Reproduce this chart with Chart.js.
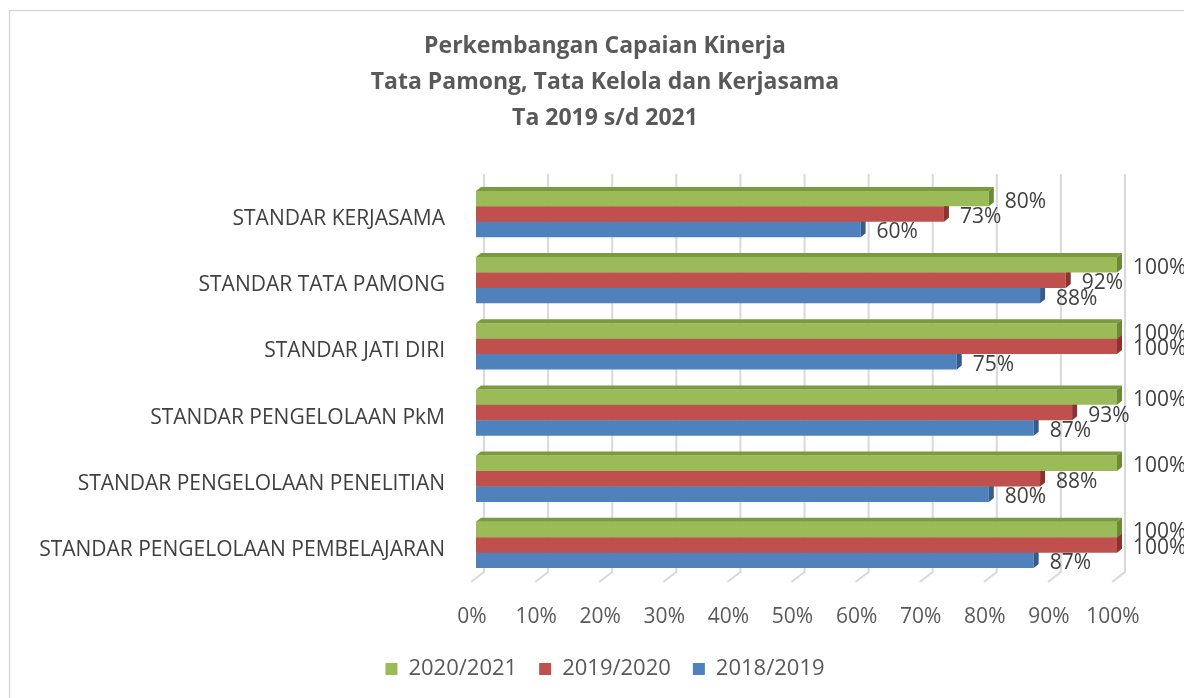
<!DOCTYPE html>
<html>
<head>
<meta charset="utf-8">
<script src="https://cdn.jsdelivr.net/npm/chart.js@4"></script>
<style>
  html, body { margin: 0; padding: 0; background: #fff; overflow: hidden; }
  /* canvas is a bit wider than the window, like the cropped original */
  #wrap { width: 1184px; height: 698px; position: relative; overflow: hidden; }
</style>
</head>
<body>
<div id="wrap"><canvas id="chart" width="1210" height="698"></canvas></div>
<script>
// categories, top to bottom
var categories = [
    'STANDAR KERJASAMA',
    'STANDAR TATA PAMONG',
    'STANDAR JATI DIRI',
    'STANDAR PENGELOLAAN PkM',
    'STANDAR PENGELOLAAN PENELITIAN',
    'STANDAR PENGELOLAAN PEMBELAJARAN'
];
var seriesNames = ['2020/2021', '2019/2020', '2018/2019'];
var values2021 = [80, 100, 100, 100, 100, 100];
var values2020 = [73, 92, 100, 93, 88, 100];
var values2019 = [60, 88, 75, 87, 80, 87];
var tickValues = [0, 10, 20, 30, 40, 50, 60, 70, 80, 90, 100];
var titleLines = ['Perkembangan Capaian Kinerja', 'Tata Pamong, Tata Kelola dan Kerjasama', 'Ta 2019 s/d 2021'];

// front colour, top face, side face (office 2007 palette)
var colours = [
    ['#9bbb59', '#7a9a40', '#6c8a35'],
    ['#c0504d', '#9c3a38', '#8a3331'],
    ['#4f81bd', '#3c6698', '#355c8a']
];
var DX = 5, DY = 4;
var FONT = "'Open Sans', 'DejaVu Sans', sans-serif";

// light frame round the chart, like the office chart area border
var framePlugin = {
    id: 'frame',
    beforeDraw: function(chart) {
        var ctx = chart.ctx;
        ctx.save();
        ctx.strokeStyle = '#d9d9d9';
        ctx.lineWidth = 1.5;
        ctx.strokeRect(9.5, 10.5, 1300, 800);
        ctx.restore();
    }
};

// back wall gridlines + the little floor diagonals
var wallPlugin = {
    id: 'wall',
    beforeDatasetsDraw: function(chart) {
        var ctx = chart.ctx, xs = chart.scales.x, area = chart.chartArea;
        ctx.save();
        ctx.strokeStyle = '#d9d9d9';
        ctx.lineWidth = 2;
        tickValues.forEach(function(v) {
            var x = xs.getPixelForValue(v) + 8;
            ctx.beginPath();
            ctx.moveTo(x, area.top - 7);
            ctx.lineTo(x, area.bottom - 6);
            ctx.lineTo(x - 13, area.bottom + 4);
            ctx.stroke();
        });
        ctx.restore();
    }
};

// fake 3d: top and right faces on each bar, drawn right after its dataset
var depthPlugin = {
    id: 'depth',
    afterDatasetDraw: function(chart, args) {
        var ctx = chart.ctx, c = colours[args.index];
        args.meta.data.forEach(function(bar) {
            var p = bar.getProps(['x', 'y', 'base', 'height'], true);
            var top = p.y - p.height / 2, bottom = p.y + p.height / 2;
            ctx.save();
            ctx.fillStyle = c[1];
            ctx.beginPath();
            ctx.moveTo(p.base, top);
            ctx.lineTo(p.base + DX, top - DY);
            ctx.lineTo(p.x + DX, top - DY);
            ctx.lineTo(p.x, top);
            ctx.closePath();
            ctx.fill();
            ctx.fillStyle = c[2];
            ctx.beginPath();
            ctx.moveTo(p.x, top);
            ctx.lineTo(p.x + DX, top - DY);
            ctx.lineTo(p.x + DX, bottom - DY);
            ctx.lineTo(p.x, bottom);
            ctx.closePath();
            ctx.fill();
            ctx.restore();
        });
    }
};

// value labels beyond the bar ends
var labelPlugin = {
    id: 'valueLabels',
    afterDatasetsDraw: function(chart) {
        var ctx = chart.ctx;
        ctx.save();
        ctx.font = '21px ' + FONT;
        ctx.fillStyle = '#404040';
        ctx.textAlign = 'left';
        ctx.textBaseline = 'middle';
        chart.data.datasets.forEach(function(ds, i) {
            chart.getDatasetMeta(i).data.forEach(function(bar, j) {
                ctx.fillText(ds.data[j] + '%', bar.x + 16, bar.y + 3);
            });
        });
        ctx.restore();
    }
};

var ctx = document.getElementById('chart').getContext('2d');
new Chart(ctx, {
    type: 'bar',
    data: {
        labels: categories,
        datasets: [
            { label: seriesNames[0], data: values2021, backgroundColor: colours[0][0] },
            { label: seriesNames[1], data: values2020, backgroundColor: colours[1][0] },
            { label: seriesNames[2], data: values2019, backgroundColor: colours[2][0] }
        ]
    },
    options: {
        indexAxis: 'y',
        responsive: false,
        animation: false,
        barPercentage: 1.0,
        categoryPercentage: 0.7,
        layout: { padding: { top: 29, right: 0, bottom: 8, left: 0 } },
        scales: {
            x: {
                min: 0, max: 100,
                grid: { display: false, drawTicks: false },
                border: { display: false },
                ticks: {
                    stepSize: 10,
                    padding: 26,
                    labelOffset: -4,
                    color: '#595959',
                    font: { family: FONT, size: 21 },
                    callback: function(v) { return v + '%'; }
                },
                afterFit: function(s) { s.height = 58; }
            },
            y: {
                grid: { display: false, drawTicks: false },
                border: { display: false },
                ticks: {
                    padding: 31,
                    labelOffset: 5,
                    color: '#404040',
                    font: { family: FONT, size: 21 }
                },
                afterFit: function(s) { s.width = 476; }
            },
            // empty strip on the right where the value labels run out
            side: {
                type: 'category',
                position: 'right',
                labels: categories,
                grid: { display: false, drawTicks: false },
                border: { display: false },
                ticks: { display: false },
                afterFit: function(s) { s.width = 93; }
            }
        },
        plugins: {
            title: {
                display: true,
                text: titleLines,
                color: '#595959',
                font: { family: FONT, size: 23, weight: 'bold', lineHeight: 1.55 },
                padding: { top: 0, bottom: 45 }
            },
            legend: {
                position: 'bottom',
                labels: {
                    boxWidth: 12,
                    boxHeight: 12,
                    padding: 22,
                    color: '#595959',
                    font: { family: FONT, size: 22 }
                }
            },
            tooltip: { enabled: false }
        }
    },
    plugins: [framePlugin, wallPlugin, depthPlugin, labelPlugin]
});
</script>
</body>
</html>
